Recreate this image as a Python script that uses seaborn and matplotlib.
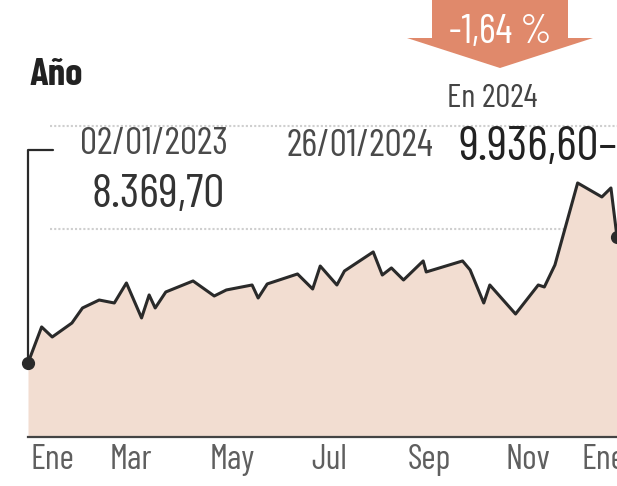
import matplotlib
matplotlib.use("Agg")
import matplotlib.pyplot as plt
import matplotlib.patches as mpatches
import numpy as np
import pandas as pd
import seaborn as sns

# Data (IBEX 35, 02/01/2023 - 26/01/2024)
dates = ["2023-01-02", "2023-01-11", "2023-01-18", "2023-01-31", "2023-02-07",
         "2023-02-18", "2023-02-28", "2023-03-08", "2023-03-18", "2023-03-23",
         "2023-03-27", "2023-04-03", "2023-04-21", "2023-05-05", "2023-05-13",
         "2023-05-30", "2023-06-03", "2023-06-09", "2023-06-29", "2023-07-09",
         "2023-07-14", "2023-07-25", "2023-07-30", "2023-08-18", "2023-08-24",
         "2023-08-30", "2023-09-07", "2023-09-20", "2023-09-22", "2023-10-16",
         "2023-10-21", "2023-10-30", "2023-11-03", "2023-11-20", "2023-12-05",
         "2023-12-09", "2023-12-16", "2023-12-31", "2024-01-16", "2024-01-22",
         "2024-01-26"]
values = [8369.7, 8818, 8693, 8867, 9054, 9153, 9116, 9365, 8930, 9216,
          9054, 9253, 9390, 9203, 9278, 9340, 9178, 9353, 9477, 9290,
          9576, 9340, 9514, 9751, 9464, 9552, 9402, 9639, 9502, 9639,
          9527, 9116, 9340, 8979, 9340, 9315, 9589, 10609, 10435, 10547,
          9936.6]
month_labels = ["Ene", "Mar", "May", "Jul", "Sep", "Nov", "Ene"]
month_ticks = ["2023-01-18", "2023-03-11", "2023-05-17", "2023-07-20",
               "2023-09-24", "2023-11-28", "2024-01-17"]
grid_levels = [10037, 11318]
y_limits = [7449, 12885]

start_label = "02/01/2023"
start_value = "8.369,70"
end_label = "26/01/2024"
end_value = "9.936,60"
change_label = "-1,64 %"

df = pd.DataFrame({"fecha": pd.to_datetime(dates), "valor": values})

sns.set_theme(style="white")
# condensed newspaper-like face, with fallbacks
plt.rcParams["font.family"] = ["Barlow Condensed", "Archivo Narrow", "DejaVu Sans"]

W, H = 617, 486
fig = plt.figure(figsize=(W / 100, H / 100), dpi=100)


def px(x, y):
    # pixel position (top-left origin) -> figure fraction
    return x / W, 1 - y / H


ax = fig.add_axes([28 / W, 49 / H, (W - 28) / W, 437 / H])
ax.set_xlim(df["fecha"].iloc[0], df["fecha"].iloc[-1])
ax.set_ylim(*y_limits)

# dotted reference lines
for lvl in grid_levels:
    ax.axhline(lvl, xmin=0.037, color="#cfcfcf", lw=1.5, ls=(0, (1, 1)), zorder=0)

ax.fill_between(df["fecha"], df["valor"], y_limits[0], color="#f2ddd1", lw=0, zorder=1)
sns.lineplot(data=df, x="fecha", y="valor", ax=ax, color="#2a2a2a", lw=2.2, zorder=3)
ax.plot(df["fecha"].iloc[[0, -1]], df["valor"].iloc[[0, -1]], "o", color="#2a2a2a",
        ms=8.5, zorder=4, clip_on=False)

# bracket from the first point
ax.annotate("", xy=(df["fecha"].iloc[0], df["valor"].iloc[0]),
            xytext=(53, H - 150), textcoords="figure pixels",
            arrowprops=dict(arrowstyle="-", color="#2a2a2a", lw=1.6,
                            connectionstyle="angle,angleA=0,angleB=90,rad=0",
                            shrinkA=0, shrinkB=0))

for s in ["left", "right", "top"]:
    ax.spines[s].set_visible(False)
ax.spines["bottom"].set_color("#444444")
ax.spines["bottom"].set_linewidth(1.6)
ax.set_yticks([])
ax.set_xticks(pd.to_datetime(month_ticks))
ax.set_xticklabels(month_labels)
ax.tick_params(axis="x", length=0, pad=5, labelsize=25, labelcolor="#5f5f5f")
ax.set_xlabel("")
ax.set_ylabel("")

# texts
fig.text(*px(30, 85), "Año", fontsize=28, fontweight="bold", color="#222222",
         va="baseline")
fig.text(*px(80, 154), start_label, fontsize=27.5, color="#4a4a4a", va="baseline")
fig.text(*px(92, 207), start_value, fontsize=34, color="#333333", va="baseline")
fig.text(*px(287, 156), end_label, fontsize=27.5, color="#4a4a4a", va="baseline")
fig.text(*px(458, 160), end_value + "–", fontsize=35.5, color="#222222",
         va="baseline")
fig.text(*px(492, 107), "En 2024", fontsize=24, color="#444444", ha="center",
         va="baseline")

# down arrow with the change
x0, y0 = px(500, -6)
x1, y1 = px(500, 68)
arrow = mpatches.FancyArrow(x0, y0, 0, y1 - y0, width=136 / W, head_width=186 / W,
                            head_length=30 / H, length_includes_head=True,
                            transform=fig.transFigure, color="#e0896b", lw=0)
fig.patches.append(arrow)
fig.text(*px(500, 43), change_label, fontsize=29, color="white", ha="center",
         va="baseline")

fig.savefig("out.png", dpi=100)
